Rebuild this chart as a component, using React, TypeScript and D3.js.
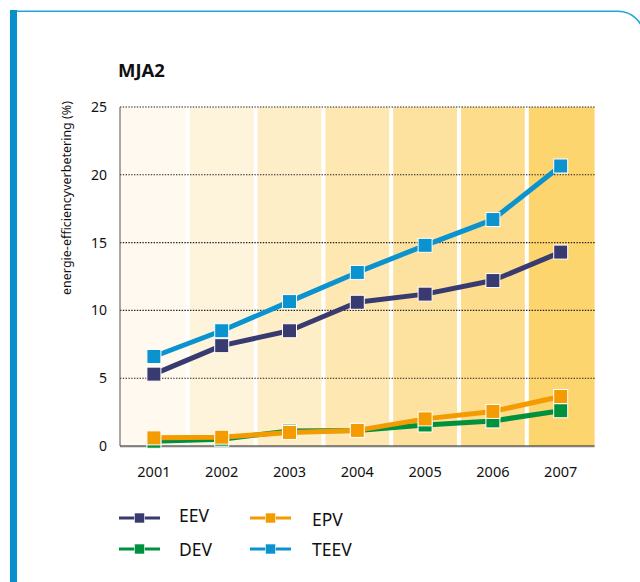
import * as d3 from "d3";

const years = ["2001", "2002", "2003", "2004", "2005", "2006", "2007"];
const eev = [5.3, 7.4, 8.5, 10.6, 11.2, 12.2, 14.3];
const dev = [0.35, 0.5, 1.1, 1.15, 1.55, 1.85, 2.6];
const epv = [0.6, 0.65, 1.0, 1.15, 2.0, 2.55, 3.65];
const teev = [6.6, 8.5, 10.65, 12.8, 14.8, 16.7, 20.65];
const yTicks = [0, 5, 10, 15, 20, 25];
const bandColors = ["#fff9ef", "#fef4dc", "#feeec8", "#fee7b1", "#fde19f", "#fddc8b", "#fdd56f"];

const MARGIN_LEFT = 120;
const MARGIN_RIGHT = 594.6;
const TOP = 107;
const BOTTOM = 446;
const FONT = "'Noto Sans', sans-serif";

const series = [
  { name: "DEV", values: dev, color: "#00913f" },
  { name: "EPV", values: epv, color: "#f39b00" },
  { name: "EEV", values: eev, color: "#393a70" },
  { name: "TEEV", values: teev, color: "#0a93cf" },
];

export default function App() {
  const x = d3.scaleBand().domain(years).range([MARGIN_LEFT, MARGIN_RIGHT]).padding(0);
  const y = d3.scaleLinear().domain([0, 25]).range([BOTTOM, TOP]);
  const cx = (yr: string) => (x(yr) as number) + x.bandwidth() / 2;

  const line = d3
    .line<number>()
    .x((_, i) => cx(years[i]))
    .y((d) => y(d));

  const legend = [
    { s: series[2], lx: 119, ly: 518, tx: 179, ty: 522 },
    { s: series[1], lx: 250, ly: 518, tx: 312, ty: 526 },
    { s: series[0], lx: 119, ly: 549, tx: 179, ty: 556 },
    { s: series[3], lx: 250, ly: 549, tx: 312, ty: 556 },
  ];

  return (
    <svg width={640} height={582} style={{ position: "absolute", left: 0, top: 0 }} fontFamily={FONT}>
      {/* frame */}
      <rect x={10} y={10} width={7} height={572} fill="#0a8fcd" />
      <path d="M17,11.2 H618 A26,26 0 0 1 644,37" fill="none" stroke="#1ea5dc" strokeWidth={1.6} />

      <text x={118} y={77} fontSize={18.5} fontWeight="bold" fill="#111">MJA2</text>

      {/* bands */}
      {years.map((yr, i) => {
        const x0 = (x(yr) as number) + (i === 0 ? 0 : 2);
        const x1 = (x(yr) as number) + x.bandwidth() - (i === years.length - 1 ? 0 : 2);
        return <rect key={yr} x={x0} y={TOP} width={x1 - x0} height={BOTTOM - TOP} fill={bandColors[i]} />;
      })}

      {/* grid */}
      {yTicks.filter((t) => t > 0).map((t) => (
        <line key={t} x1={MARGIN_LEFT} x2={MARGIN_RIGHT} y1={y(t)} y2={y(t)} stroke="#222" strokeWidth={1.1} strokeDasharray="1.4 1.4" />
      ))}
      <line x1={MARGIN_LEFT} x2={MARGIN_LEFT} y1={TOP} y2={BOTTOM} stroke="#555" strokeWidth={1} />
      <line x1={MARGIN_LEFT} x2={MARGIN_RIGHT} y1={BOTTOM + 1} y2={BOTTOM + 1} stroke="#bbb" strokeWidth={1} />
      <line x1={MARGIN_LEFT} x2={MARGIN_RIGHT} y1={BOTTOM} y2={BOTTOM} stroke="#222" strokeWidth={1.2} />

      {/* y ticks */}
      {yTicks.map((t) => (
        <text key={t} x={107} y={y(t)} dy="0.36em" textAnchor="end" fontSize={14} fill="#111">{t}</text>
      ))}
      <text transform="translate(71,198) rotate(-90)" textAnchor="middle" fontSize={12.5} fill="#111">
        energie-efficiencyverbetering (%)
      </text>

      {/* x ticks */}
      {years.map((yr) => (
        <text key={yr} x={cx(yr)} y={477} textAnchor="middle" fontSize={14.5} fill="#111">{yr}</text>
      ))}

      {/* series */}
      {series.map((s) => (
        <g key={s.name}>
          <path d={line(s.values) as string} fill="none" stroke={s.color} strokeWidth={5} strokeLinejoin="round" />
          {s.values.map((v, i) => (
            <rect key={i} x={cx(years[i]) - 7} y={y(v) - 7} width={14} height={14} fill={s.color} stroke="#fff" strokeWidth={1} />
          ))}
        </g>
      ))}

      {/* legend */}
      {legend.map(({ s, lx, ly, tx, ty }) => (
        <g key={s.name}>
          <line x1={lx} x2={lx + 41} y1={ly} y2={ly} stroke={s.color} strokeWidth={3} />
          <rect x={lx + 15.5} y={ly - 5} width={10} height={10} fill={s.color} stroke="#fff" strokeWidth={0.6} />
          <text x={tx} y={ty} fontSize={17.5} fill="#111">{s.name}</text>
        </g>
      ))}
    </svg>
  );
}
